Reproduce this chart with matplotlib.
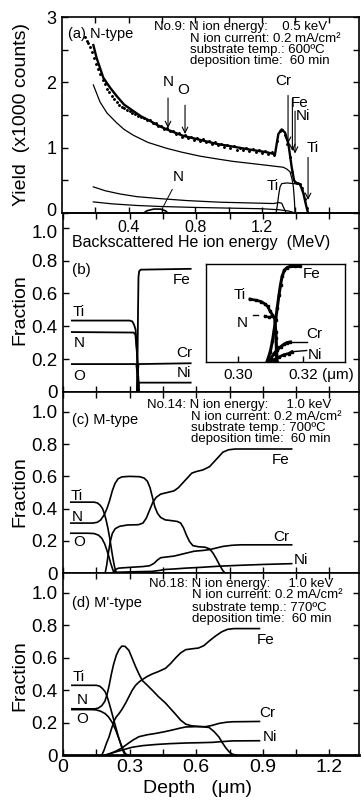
import numpy as np
import matplotlib.pyplot as plt
from matplotlib.transforms import ScaledTranslation

plt.rcParams['font.family'] = ['Liberation Sans', 'DejaVu Sans']

# ---------------- (a) RBS spectrum, N-type film ----------------
# measured points (MeV, x1000 counts)
e_meas = [0.138, 0.148, 0.158, 0.168, 0.180, 0.193, 0.205, 0.218, 0.230, 0.243,
          0.256, 0.270, 0.283, 0.298, 0.313, 0.328, 0.343, 0.358, 0.374, 0.390,
          0.406, 0.422, 0.439, 0.456, 0.473, 0.490, 0.508, 0.526, 0.543, 0.561,
          0.578, 0.596, 0.613, 0.631, 0.648, 0.666, 0.683, 0.701, 0.718, 0.736,
          0.754, 0.772, 0.790, 0.808, 0.826, 0.844, 0.862, 0.880, 0.898, 0.917,
          0.935, 0.954, 0.972, 0.991, 1.010, 1.029, 1.048, 1.067, 1.086, 1.105,
          1.124, 1.143, 1.162, 1.181, 1.200, 1.219, 1.238, 1.257, 1.272, 1.290,
          1.305, 1.320, 1.335, 1.350, 1.365, 1.380, 1.395, 1.410, 1.425, 1.440,
          1.455, 1.468]
cnt_meas = [2.70, 2.64, 2.60, 2.54, 2.47, 2.38, 2.28, 2.20, 2.12, 2.03,
            1.97, 1.90, 1.85, 1.79, 1.74, 1.70, 1.66, 1.63, 1.60, 1.58,
            1.56, 1.53, 1.51, 1.48, 1.47, 1.46, 1.42, 1.43, 1.38, 1.38,
            1.33, 1.33, 1.28, 1.30, 1.25, 1.26, 1.21, 1.23, 1.17, 1.19,
            1.15, 1.17, 1.12, 1.15, 1.10, 1.13, 1.08, 1.10, 1.05, 1.08,
            1.04, 1.06, 1.01, 1.04, 0.99, 1.02, 0.97, 1.00, 0.96, 0.99,
            0.95, 0.98, 0.93, 0.96, 0.92, 0.95, 0.90, 0.93, 0.89, 1.10,
            1.25, 1.27, 1.20, 1.05, 0.85, 0.62, 0.48, 0.46, 0.44, 0.38,
            0.22, 0.08]

# simulated total spectrum
e_sim = [0.188, 0.208, 0.248, 0.288, 0.328, 0.372, 0.428, 0.474, 0.528, 0.576,
         0.628, 0.678, 0.728, 0.828, 0.924, 1.028, 1.128, 1.228, 1.278, 1.288,
         1.298, 1.318, 1.338, 1.358, 1.378, 1.392, 1.404, 1.422, 1.431, 1.448,
         1.464, 1.476]
cnt_sim = [2.57, 2.37, 2.07, 1.92, 1.79, 1.66, 1.56, 1.48, 1.41, 1.34,
           1.28, 1.23, 1.18, 1.12, 1.06, 1.015, 0.97, 0.93, 0.90, 1.06,
           1.21, 1.28, 1.23, 1.06, 0.70, 0.50, 0.46, 0.45, 0.42, 0.30,
           0.12, 0.0]

# substrate (Fe+Cr+Ni) contribution
e_sub = [0.188, 0.228, 0.270, 0.328, 0.372, 0.428, 0.516, 0.628, 0.720, 0.828,
         0.924, 1.026, 1.128, 1.230, 1.328, 1.350, 1.368, 1.380, 1.388, 1.394, 1.398]
cnt_sub = [1.96, 1.70, 1.53, 1.38, 1.28, 1.19, 1.08, 0.99, 0.93, 0.87,
           0.83, 0.79, 0.76, 0.73, 0.70, 0.67, 0.63, 0.52, 0.40, 0.20, 0.0]

# low-yield partial spectra
e_low1 = [0.188, 0.26, 0.35, 0.45, 0.588, 0.75, 0.95, 1.188, 1.27, 1.30, 1.318, 1.33, 1.345]
cnt_low1 = [0.40, 0.34, 0.29, 0.25, 0.22, 0.19, 0.165, 0.15, 0.145, 0.16, 0.15, 0.08, 0.0]
e_low2 = [0.188, 0.30, 0.45, 0.588, 0.80, 1.00, 1.20, 1.30, 1.36, 1.40]
cnt_low2 = [0.17, 0.14, 0.115, 0.10, 0.085, 0.075, 0.065, 0.05, 0.03, 0.0]
e_npeak = [0.49, 0.51, 0.55, 0.59, 0.62, 0.635]
cnt_npeak = [0.0, 0.035, 0.06, 0.06, 0.035, 0.0]
e_ti = [1.284, 1.292, 1.300, 1.308, 1.318, 1.35, 1.39, 1.42, 1.435, 1.448, 1.46, 1.47, 1.476]
cnt_ti = [0.0, 0.12, 0.28, 0.40, 0.45, 0.46, 0.45, 0.44, 0.41, 0.33, 0.18, 0.06, 0.0]

# surface edge arrows: element, energy, arrow start, arrow tip
edge_el = ['N', 'O', 'Cr', 'Fe', 'Ni', 'Ti']
edge_e = [0.636, 0.738, 1.356, 1.382, 1.398, 1.476]
edge_top = [1.76, 1.65, 1.80, 1.75, 1.56, 0.85]
edge_tip = [1.30, 1.21, 1.06, 0.95, 0.91, 0.20]

# ---------------- (b) N-type depth profile ----------------
d_ti_b = [0.04, 0.30, 0.312, 0.32, 0.327, 0.333, 0.338, 0.342]
f_ti_b = [0.435, 0.435, 0.43, 0.41, 0.38, 0.25, 0.12, 0.0]
d_n_b = [0.04, 0.318, 0.326, 0.332, 0.337, 0.342]
f_n_b = [0.365, 0.362, 0.35, 0.26, 0.13, 0.0]
d_o_b = [0.04, 0.33, 0.336, 0.341]
f_o_b = [0.17, 0.17, 0.10, 0.0]
d_fe_b = [0.333, 0.336, 0.338, 0.340, 0.343, 0.35, 0.575]
f_fe_b = [0.0, 0.25, 0.5, 0.70, 0.735, 0.745, 0.75]
d_cr_b = [0.334, 0.337, 0.34, 0.575]
f_cr_b = [0.0, 0.12, 0.17, 0.175]
d_ni_b = [0.336, 0.340, 0.345, 0.575]
f_ni_b = [0.0, 0.05, 0.057, 0.057]

# interface detail (inset)
d_fe_in = [0.3088, 0.3098, 0.3105, 0.3110, 0.3115, 0.3120, 0.3125, 0.3130,
           0.3135, 0.3142, 0.3150, 0.3160, 0.3175, 0.3190]
f_fe_in = [0.0, 0.08, 0.17, 0.26, 0.35, 0.45, 0.55, 0.64, 0.71, 0.76, 0.78, 0.79, 0.79, 0.79]
d_ti_in = [0.3036, 0.3055, 0.3070, 0.3082, 0.3090, 0.3098, 0.3105, 0.3112,
           0.3116, 0.3118, 0.3120]
f_ti_in = [0.52, 0.51, 0.50, 0.48, 0.46, 0.42, 0.39, 0.36, 0.25, 0.12, 0.0]
d_n_in = [0.3082, 0.3095, 0.3105, 0.3112, 0.3115, 0.3117]
f_n_in = [0.38, 0.37, 0.38, 0.36, 0.20, 0.0]
d_cr_in = [0.3090, 0.3100, 0.3110, 0.3120, 0.3130, 0.3140, 0.3150, 0.3160, 0.3210]
f_cr_in = [0.0, 0.03, 0.07, 0.10, 0.125, 0.145, 0.16, 0.165, 0.165]
d_ni_in = [0.3095, 0.3110, 0.3125, 0.3140, 0.3155, 0.3165, 0.3210]
f_ni_in = [0.0, 0.02, 0.04, 0.06, 0.07, 0.085, 0.095]

# ---------------- (c) M-type depth profile ----------------
d_ti_c = [0.035, 0.10, 0.14, 0.155, 0.168, 0.178, 0.186, 0.194, 0.202, 0.210,
          0.218, 0.225, 0.232, 0.238, 0.243]
f_ti_c = [0.44, 0.44, 0.44, 0.435, 0.42, 0.40, 0.37, 0.33, 0.28, 0.22,
          0.15, 0.09, 0.04, 0.01, 0.0]
d_n_c = [0.035, 0.10, 0.135, 0.155, 0.17, 0.185, 0.198, 0.21, 0.222, 0.234,
         0.248, 0.265, 0.30, 0.345, 0.365, 0.38, 0.392, 0.403, 0.414, 0.426,
         0.44, 0.46, 0.49, 0.515, 0.53, 0.543, 0.556, 0.57, 0.585, 0.61,
         0.64, 0.66, 0.675, 0.69, 0.705, 0.72, 0.73]
f_n_c = [0.31, 0.31, 0.31, 0.315, 0.33, 0.36, 0.40, 0.45, 0.51, 0.555,
         0.585, 0.597, 0.60, 0.598, 0.59, 0.57, 0.53, 0.47, 0.41, 0.37,
         0.345, 0.33, 0.325, 0.32, 0.31, 0.28, 0.235, 0.195, 0.17, 0.163,
         0.16, 0.15, 0.125, 0.09, 0.05, 0.015, 0.0]
d_o_c = [0.035, 0.11, 0.14, 0.16, 0.175, 0.188, 0.198, 0.207, 0.215, 0.222, 0.23]
f_o_c = [0.247, 0.247, 0.245, 0.235, 0.215, 0.18, 0.14, 0.10, 0.06, 0.03, 0.0]
d_fe_c = [0.19, 0.197, 0.204, 0.212, 0.222, 0.235, 0.255, 0.29, 0.34, 0.36,
          0.375, 0.39, 0.405, 0.42, 0.44, 0.47, 0.50, 0.52, 0.54, 0.56,
          0.58, 0.60, 0.63, 0.66, 0.68, 0.70, 0.72, 0.745, 0.775, 0.85, 1.03]
f_fe_c = [0.0, 0.05, 0.12, 0.19, 0.245, 0.275, 0.29, 0.298, 0.30, 0.31,
          0.34, 0.39, 0.44, 0.47, 0.49, 0.50, 0.51, 0.53, 0.56, 0.59,
          0.62, 0.63, 0.64, 0.66, 0.69, 0.72, 0.75, 0.765, 0.77, 0.77, 0.77]
d_cr_c = [0.225, 0.235, 0.25, 0.30, 0.36, 0.39, 0.41, 0.425, 0.44, 0.47,
          0.50, 0.53, 0.56, 0.59, 0.63, 0.66, 0.69, 0.72, 0.76, 0.80, 1.03]
f_cr_c = [0.0, 0.02, 0.03, 0.035, 0.04, 0.045, 0.06, 0.08, 0.095, 0.10,
          0.105, 0.115, 0.125, 0.135, 0.14, 0.145, 0.155, 0.165, 0.172, 0.175, 0.175]
d_ni_c = [0.21, 0.25, 0.33, 0.40, 0.43, 0.46, 0.50, 0.55, 0.62, 0.70, 0.80, 0.90, 1.03]
f_ni_c = [0.0, 0.005, 0.008, 0.01, 0.015, 0.022, 0.025, 0.03, 0.035, 0.042, 0.048, 0.053, 0.058]

# ---------------- (d) M'-type depth profile ----------------
d_ti_d = [0.04, 0.10, 0.15, 0.165, 0.178, 0.19, 0.20, 0.21, 0.22, 0.23,
          0.24, 0.25, 0.26, 0.27, 0.28, 0.29]
f_ti_d = [0.43, 0.43, 0.43, 0.425, 0.41, 0.39, 0.355, 0.31, 0.26, 0.21,
          0.16, 0.11, 0.07, 0.035, 0.01, 0.0]
d_n_d = [0.04, 0.10, 0.145, 0.16, 0.175, 0.188, 0.198, 0.208, 0.218, 0.228,
         0.24, 0.252, 0.265, 0.28, 0.297, 0.312, 0.327, 0.342, 0.357, 0.38,
         0.402, 0.43, 0.462, 0.485, 0.508, 0.53, 0.553, 0.58, 0.62, 0.658,
         0.68, 0.703, 0.718, 0.733, 0.748, 0.763, 0.78]
f_n_d = [0.285, 0.285, 0.285, 0.29, 0.305, 0.33, 0.37, 0.43, 0.50, 0.56,
         0.615, 0.65, 0.672, 0.67, 0.645, 0.595, 0.545, 0.50, 0.46, 0.43,
         0.40, 0.36, 0.32, 0.285, 0.25, 0.215, 0.19, 0.18, 0.175, 0.17,
         0.145, 0.11, 0.075, 0.045, 0.02, 0.005, 0.0]
d_o_d = [0.04, 0.13, 0.15, 0.17, 0.19, 0.205, 0.222, 0.237, 0.252, 0.263, 0.272, 0.28]
f_o_d = [0.28, 0.28, 0.278, 0.27, 0.255, 0.235, 0.20, 0.155, 0.10, 0.055, 0.02, 0.0]
d_fe_d = [0.175, 0.185, 0.195, 0.207, 0.218, 0.23, 0.24, 0.252, 0.265, 0.282,
          0.297, 0.312, 0.327, 0.342, 0.357, 0.38, 0.402, 0.43, 0.462, 0.485,
          0.508, 0.53, 0.553, 0.58, 0.61, 0.635, 0.66, 0.688, 0.715, 0.74,
          0.77, 0.885]
f_fe_d = [0.0, 0.03, 0.07, 0.11, 0.16, 0.21, 0.235, 0.255, 0.28, 0.32,
          0.36, 0.40, 0.43, 0.45, 0.465, 0.485, 0.50, 0.515, 0.535, 0.565,
          0.60, 0.63, 0.65, 0.655, 0.66, 0.675, 0.705, 0.735, 0.76, 0.775,
          0.78, 0.78]
d_cr_d = [0.195, 0.215, 0.24, 0.267, 0.29, 0.315, 0.342, 0.38, 0.417, 0.455,
          0.492, 0.525, 0.553, 0.60, 0.643, 0.67, 0.703, 0.735, 0.763, 0.885]
f_cr_d = [0.0, 0.01, 0.025, 0.045, 0.068, 0.092, 0.113, 0.125, 0.133, 0.143,
          0.154, 0.165, 0.173, 0.175, 0.175, 0.182, 0.195, 0.202, 0.205, 0.207]
d_ni_d = [0.19, 0.22, 0.26, 0.312, 0.36, 0.42, 0.48, 0.553, 0.62, 0.673, 0.72, 0.763, 0.885]
f_ni_d = [0.0, 0.012, 0.028, 0.048, 0.058, 0.065, 0.07, 0.074, 0.076, 0.078, 0.083, 0.087, 0.088]

frac_ticks = [0, 0.2, 0.4, 0.6, 0.8, 1.0]
frac_labels = ['0', '0.2', '0.4', '0.6', '0.8', '1.0']
depth_ticks = [0.15 * i for i in range(9)]
depth_labels = ['0', '', '0.3', '', '0.6', '', '0.9', '', '1.2']

W, H = 362, 802
fig = plt.figure(figsize=(W / 100, H / 100), dpi=100)


def box(top, bottom, left=63, right=359):
    return [left / W, 1 - bottom / H, (right - left) / W, (bottom - top) / H]


def style(ax):
    ax.tick_params(which='both', direction='in', top=True, right=True,
                   length=4, width=1, labelsize=14, pad=4)
    for s in ax.spines.values():
        s.set_linewidth(1.2)


def info(ax, head, lines, x0, x1, ys):
    ax.text(x0, ys[0], head, transform=ax.transAxes, fontsize=9.5, va='center')
    for t, y in zip(lines, ys[1:]):
        ax.text(x1, y, t, transform=ax.transAxes, fontsize=9.5, va='center')


def depth_panel(ax, top_frac):
    style(ax)
    ax.set_xlim(0, 296 / 222)
    ax.set_ylim(0, top_frac)
    ax.set_xticks(depth_ticks, [''] * len(depth_ticks))
    ax.set_yticks(frac_ticks, frac_labels)


def nudge(label, dy_pt):
    label.set_transform(label.get_transform() +
                        ScaledTranslation(0, dy_pt / 72, fig.dpi_scale_trans))


lab = dict(fontsize=11, ha='center', va='center')

# ---- panel (a) ----
ax_a = fig.add_axes(box(17, 213, left=62))
style(ax_a)
ax_a.set_xlim(0, 297 / 166.7)
ax_a.set_ylim(0, 2.97)
a_ticks = [0.2, 0.4, 0.6, 0.8, 1.0, 1.2, 1.4, 1.6]
ax_a.set_xticks(a_ticks, ['', '0.4', '', '0.8', '', '1.2', '', ''])
ax_a.tick_params(axis='x', labelsize=11.5, pad=5)
ax_a.tick_params(axis='y', labelsize=13)
ax_a.set_yticks([0, 1, 2, 3], ['0', '1', '2', '3'])
ax_a.set_yticks([0.5, 1.5, 2.5], minor=True)
ax_a.plot(e_meas, cnt_meas, '.', color='k', ms=2.2)
ax_a.plot(e_sim, cnt_sim, color='k', lw=1.7)
ax_a.plot(e_sub, cnt_sub, color='k', lw=0.9)
ax_a.plot(e_low1, cnt_low1, color='k', lw=0.9)
ax_a.plot(e_low2, cnt_low2, color='k', lw=0.9)
ax_a.plot(e_npeak, cnt_npeak, color='k', lw=1.2)
ax_a.plot(e_ti, cnt_ti, color='k', lw=0.9)
for el, e, y0, y1 in zip(edge_el, edge_e, edge_top, edge_tip):
    ax_a.annotate('', xy=(e, y1), xytext=(e, y0),
                  arrowprops=dict(arrowstyle='->', lw=0.8, color='k',
                                  shrinkA=0, shrinkB=0))
lab_off = {'N': (0, 0.25), 'O': (-0.012, 0.24), 'Cr': (-0.03, 0.22),
           'Fe': (0.046, -0.07), 'Ni': (0.048, -0.08), 'Ti': (0.03, 0.15)}
for el, e, y0 in zip(edge_el, edge_e, edge_top):
    dx, dy = lab_off[el]
    ax_a.text(e + dx, y0 + dy, el, **lab)
ax_a.annotate('N', xy=(0.606, 0.09), xytext=(0.70, 0.55),
              arrowprops=dict(arrowstyle='-', lw=0.7, color='k', shrinkA=2, shrinkB=0),
              **lab)
ax_a.text(1.30, 0.42, 'Ti', fontsize=11, ha='right', va='center')
ax_a.text(0.02, 0.915, '(a) N-type', transform=ax_a.transAxes, fontsize=10.5, va='center')
info(ax_a, 'No.9: N ion energy:    0.5 keV',
     ['N ion current: 0.2 mA/cm²', 'substrate temp.: 600ºC', 'deposition time:  60 min'],
     0.31, 0.432, [0.949, 0.888, 0.832, 0.776])
ax_a.set_xlabel('Backscattered He ion energy  (MeV)', fontsize=11.5)
ax_a.xaxis.set_label_coords(0.47, -0.11)

# ---- panel (b) ----
ax_b = fig.add_axes(box(213, 392))
depth_panel(ax_b, 1.09)
ax_b.tick_params(axis='y', labelsize=13.5)
ax_b.patch.set_visible(False)
for d, f in [(d_ti_b, f_ti_b), (d_n_b, f_n_b), (d_o_b, f_o_b),
             (d_fe_b, f_fe_b), (d_cr_b, f_cr_b), (d_ni_b, f_ni_b)]:
    ax_b.plot(d, f, color='k', lw=1.3)
ax_b.text(0.04, 0.74, '(b)', fontsize=11, va='center')
for t, x, y in [('Ti', 0.072, 0.49), ('N', 0.072, 0.30), ('O', 0.072, 0.10),
                ('Fe', 0.536, 0.68), ('Cr', 0.545, 0.24), ('Ni', 0.545, 0.115)]:
    ax_b.text(x, y, t, **lab)

# keep the "0" of (a) and the "1.0" of (b) apart where the panels meet
nudge(ax_a.get_yticklabels()[0], 2.5)
nudge(ax_b.get_yticklabels()[-1], -2.5)

ax_in = fig.add_axes(box(264, 362, left=206, right=345))
ax_in.set_xlim(0.2901, 0.3328)
ax_in.set_ylim(0, 0.81)
ax_in.set_yticks([])
ax_in.set_xticks([0.30, 0.32], ['0.30', '0.32'])
ax_in.tick_params(direction='in', length=4, width=1, labelsize=11, pad=4)
for s in ax_in.spines.values():
    s.set_linewidth(1.0)
ax_in.plot(d_fe_in, f_fe_in, color='k', lw=2.2, marker='s', ms=2)
ax_in.plot([d_fe_in[-1], 0.3190], [f_fe_in[-1], 0.79], color='k', lw=1)
ax_in.plot(d_ti_in, f_ti_in, color='k', lw=2.0, marker='s', ms=1.8)
ax_in.plot(d_n_in, f_n_in, color='k', lw=1.6, marker='s', ms=1.6)
ax_in.plot(d_cr_in[:-1], f_cr_in[:-1], color='k', lw=2.2, marker='s', ms=1.8)
ax_in.plot(d_cr_in[-2:], f_cr_in[-2:], color='k', lw=1)
ax_in.plot(d_ni_in[:-1], f_ni_in[:-1], color='k', lw=2.0, marker='s', ms=1.6)
ax_in.plot(d_ni_in[-2:], f_ni_in[-2:], color='k', lw=1)
ax_in.plot([0.3046, 0.3062], [0.39, 0.39], color='k', lw=1)
for t, x, y in [('Fe', 0.3225, 0.73), ('Ti', 0.3005, 0.55), ('N', 0.3012, 0.32),
                ('Cr', 0.3235, 0.23), ('Ni', 0.3235, 0.06)]:
    ax_in.text(x, y, t, **lab)
ax_in.text(0.3257, -0.135, '(μm)', transform=ax_in.get_xaxis_transform(),
           fontsize=11, va='center')

# ---- panel (c) ----
ax_c = fig.add_axes(box(392, 573))
depth_panel(ax_c, 1.124)
ax_c.tick_params(axis='y', labelsize=13.5)
for d, f in [(d_ti_c, f_ti_c), (d_n_c, f_n_c), (d_o_c, f_o_c),
             (d_fe_c, f_fe_c), (d_cr_c, f_cr_c), (d_ni_c, f_ni_c)]:
    ax_c.plot(d, f, color='k', lw=1.2)
ax_c.text(0.03, 0.845, '(c) M-type', transform=ax_c.transAxes, fontsize=10.5, va='center')
info(ax_c, 'No.14: N ion energy:     1.0 keV',
     ['N ion current: 0.2 mA/cm²', 'substrate temp.: 700ºC', 'deposition time:  60 min'],
     0.285, 0.434, [0.928, 0.862, 0.80, 0.738])
for t, x, y in [('Ti', 0.06, 0.48), ('N', 0.063, 0.35), ('O', 0.075, 0.19),
                ('Fe', 0.98, 0.70), ('Cr', 0.985, 0.225), ('Ni', 1.07, 0.08)]:
    ax_c.text(x, y, t, **lab)

# ---- panel (d) ----
ax_d = fig.add_axes(box(573, 755))
depth_panel(ax_d, 1.123)
ax_d.tick_params(axis='y', labelsize=13.5)
ax_d.set_xticks(depth_ticks, depth_labels)
ax_d.tick_params(axis='x', pad=3)
ax_d.spines['bottom'].set_linewidth(2)
for d, f in [(d_ti_d, f_ti_d), (d_n_d, f_n_d), (d_o_d, f_o_d),
             (d_fe_d, f_fe_d), (d_cr_d, f_cr_d), (d_ni_d, f_ni_d)]:
    ax_d.plot(d, f, color='k', lw=1.2)
ax_d.text(0.03, 0.835, "(d) M'-type", transform=ax_d.transAxes, fontsize=10.5, va='center')
info(ax_d, 'No.18: N ion energy:     1.0 keV',
     ['N ion current: 0.2 mA/cm²', 'substrate temp.: 770ºC', 'deposition time:  60 min'],
     0.29, 0.437, [0.94, 0.879, 0.81, 0.745])
for t, x, y in [('Ti', 0.072, 0.48), ('N', 0.086, 0.34), ('O', 0.086, 0.225),
                ('Fe', 0.914, 0.71), ('Cr', 0.92, 0.26), ('Ni', 0.93, 0.11)]:
    ax_d.text(x, y, t, **lab)
ax_d.set_xlabel('Depth   (μm)', fontsize=14)
ax_d.xaxis.set_label_coords(0.456, -0.135)

# axis titles on the left
fig.text(22 / W, 1 - 115 / H, 'Yield  (x1000 counts)', rotation=90,
         ha='center', va='center', fontsize=14)
for yc in [310, 492, 676]:
    fig.text(20 / W, 1 - yc / H, 'Fraction', rotation=90,
             ha='center', va='center', fontsize=14)

fig.savefig('out.png', dpi=100)
